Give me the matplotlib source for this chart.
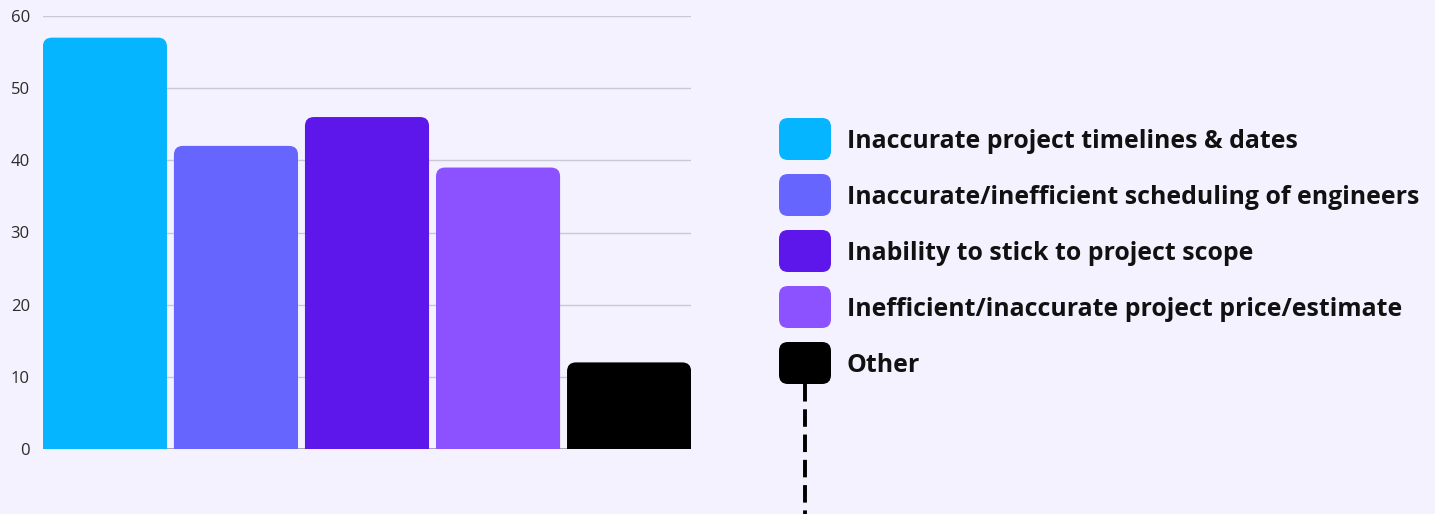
import matplotlib
matplotlib.use("Agg")
import matplotlib.pyplot as plt
from matplotlib.patches import FancyBboxPatch

categories = [
    "Inaccurate project timelines & dates",
    "Inaccurate/inefficient scheduling of engineers",
    "Inability to stick to project scope",
    "Inefficient/inaccurate project price/estimate",
    "Other",
]
values = [57, 42, 46, 39, 12]
colors = ["#05B5FF", "#6666FF", "#5E17EB", "#8C52FF", "#000000"]
yticks = [0, 10, 20, 30, 40, 50, 60]

BG = "#F3F2FE"
W, H = 1435, 514

fig = plt.figure(figsize=(W / 100, H / 100), dpi=100, facecolor=BG)
ax = fig.add_axes([43 / W, 1 - 449 / H, 648 / W, 433 / H])
ax.set_facecolor(BG)

xlim = (-0.4725, len(values) - 1 + 0.4725)
ax.set_xlim(*xlim)
ax.set_ylim(0, 60)

# pixels per data unit, used to keep the corner radius round on screen
px_x = 648 / (xlim[1] - xlim[0])
px_y = 433 / 60
radius_px = 9
bar_w = 0.947

for i, (v, c) in enumerate(zip(values, colors)):
    # start the box below zero so the bottom corners are clipped away
    below = 3
    patch = FancyBboxPatch(
        (i - bar_w / 2, -below), bar_w, v + below,
        boxstyle=f"round,pad=0,rounding_size={radius_px / px_x}",
        mutation_aspect=px_x / px_y,
        facecolor=c, edgecolor="none", zorder=3,
    )
    ax.add_patch(patch)

ax.set_yticks(yticks)
ax.set_xticks([])
ax.yaxis.grid(True, color="#C9C8D6", linewidth=1, zorder=0)
ax.axhline(0, color="#8E8E96", linewidth=1.2, zorder=1)
for s in ax.spines.values():
    s.set_visible(False)
ax.tick_params(axis="y", length=0, pad=9.5, labelsize=12, labelcolor="#2B2B2B")
for lbl in ax.get_yticklabels():
    lbl.set_fontfamily("Open Sans")

# legend drawn in pixel space on an overlay
lax = fig.add_axes([0, 0, 1, 1])
lax.set_xlim(0, W)
lax.set_ylim(H, 0)
lax.axis("off")

sq_x, sq_w, sq_h = 779, 52, 42
row0, step = 118, 56
texts = []
for i, (name, c) in enumerate(zip(categories, colors)):
    top = row0 + i * step
    lax.add_patch(FancyBboxPatch(
        (sq_x, top), sq_w, sq_h,
        boxstyle="round,pad=0,rounding_size=9",
        facecolor=c, edgecolor="none",
    ))
    t = lax.text(847, top + sq_h / 2 + 3, name, fontsize=17, fontweight="bold",
                 family="Open Sans", color="#111111", va="center", ha="left")
    texts.append(t)

# scale legend text so the longest label spans the same width
fig.canvas.draw()
r = fig.canvas.get_renderer()
widest = max(t.get_window_extent(r).width for t in texts)
scale = 572 / widest
for t in texts:
    t.set_fontsize(17 * scale)

last_bottom = row0 + (len(categories) - 1) * step + sq_h
lax.plot([805, 805], [last_bottom, H], color="black", linewidth=2.8,
         linestyle=(0, (4.5, 2)), solid_capstyle="butt")

fig.savefig("out.png", dpi=100, facecolor=BG)
